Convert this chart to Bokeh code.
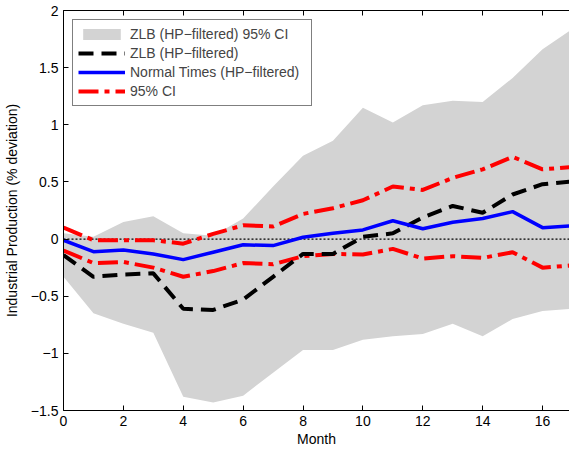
from bokeh.plotting import figure
from bokeh.models import (Range1d, FixedTicker, CustomJSTickFormatter, LinearAxis,
                          Legend, LegendItem, ColumnDataSource)
from bokeh.embed import file_html
from bokeh.resources import INLINE

# ---- data ----
months = list(range(18))
zlb_ci_upper = [0.05, 0.02, 0.15, 0.20, 0.05, 0.03, 0.18, 0.46, 0.73, 0.86, 1.15, 1.02,
                1.17, 1.21, 1.20, 1.41, 1.66, 1.84]
zlb_ci_lower = [-0.33, -0.65, -0.74, -0.82, -1.38, -1.43, -1.37, -1.17, -0.97, -0.97, -0.88,
                -0.85, -0.83, -0.74, -0.85, -0.70, -0.63, -0.61]
zlb = [-0.14, -0.33, -0.31, -0.30, -0.61, -0.62, -0.53, -0.33, -0.13, -0.13, 0.02, 0.05,
       0.19, 0.29, 0.23, 0.39, 0.48, 0.505]
normal = [-0.01, -0.11, -0.095, -0.13, -0.18, -0.115, -0.05, -0.057, 0.016, 0.05, 0.08, 0.16,
          0.09, 0.147, 0.18, 0.24, 0.10, 0.117]
ci_upper = [0.10, -0.01, -0.01, -0.01, -0.04, 0.045, 0.12, 0.11, 0.22, 0.27, 0.34, 0.46,
            0.43, 0.535, 0.61, 0.72, 0.61, 0.632]
ci_lower = [-0.10, -0.21, -0.20, -0.25, -0.33, -0.28, -0.21, -0.22, -0.15, -0.13, -0.135,
            -0.086, -0.17, -0.15, -0.165, -0.115, -0.25, -0.23]
zero_line = [0.0] * len(months)

x_ticks = [0, 2, 4, 6, 8, 10, 12, 14, 16]
y_ticks = [-1.5, -1, -0.5, 0, 0.5, 1, 1.5, 2]

labels = ["ZLB (HP\u2212filtered) 95% CI", "ZLB (HP\u2212filtered)",
          "Normal Times (HP\u2212filtered)", "95% CI"]

FONT = "Liberation Sans"

src = ColumnDataSource(dict(month=months, up=zlb_ci_upper, lo=zlb_ci_lower, zlb=zlb,
                            normal=normal, ciu=ci_upper, cil=ci_lower, zero=zero_line))

p = figure(width=569, height=450, output_backend="svg", toolbar_location=None,
           x_range=Range1d(0, 16.9), y_range=Range1d(-1.5, 2),
           min_border_left=63, min_border_right=0, min_border_top=10, min_border_bottom=40)
p.outline_line_color = None
p.xgrid.visible = False
p.ygrid.visible = False
p.background_fill_color = "white"
p.border_fill_color = "white"

area = p.varea(x="month", y1="lo", y2="up", source=src, fill_color="#d3d3d3", fill_alpha=1.0)
p.line(x="month", y="zero", source=src, line_color="black", line_width=1.2, line_dash="2 2")
ci_u = p.line(x="month", y="ciu", source=src, line_color="#ff0000", line_width=4,
              line_dash="20 6 5 6")
p.line(x="month", y="cil", source=src, line_color="#ff0000", line_width=4, line_dash="20 6 5 6")
zl = p.line(x="month", y="zlb", source=src, line_color="black", line_width=4, line_dash="15 8")
nl = p.line(x="month", y="normal", source=src, line_color="#0000ff", line_width=3.5)

fmt = CustomJSTickFormatter(code="return tick < 0 ? '\\u2212' + (-tick) : '' + tick;")

for ax in (p.xaxis[0], p.yaxis[0]):
    ax.major_tick_in = 5
    ax.major_tick_out = 0
    ax.minor_tick_in = 0
    ax.minor_tick_out = 0
    ax.axis_line_color = "black"
    ax.major_tick_line_color = "black"
    ax.major_label_text_font = FONT
    ax.major_label_text_font_size = "14px"
    ax.major_label_text_color = "black"
    ax.axis_label_text_font = FONT
    ax.axis_label_text_font_size = "14px"
    ax.axis_label_text_font_style = "normal"
    ax.axis_label_text_color = "black"
    ax.formatter = fmt

p.xaxis[0].ticker = FixedTicker(ticks=x_ticks)
p.yaxis[0].ticker = FixedTicker(ticks=y_ticks)
p.xaxis[0].axis_label = "Month"
p.xaxis[0].major_label_standoff = 5
p.xaxis[0].axis_label_standoff = 2
p.yaxis[0].axis_label = "Industrial Production (% deviation)"
p.yaxis[0].major_label_standoff = 5
p.yaxis[0].axis_label_standoff = 8

top = LinearAxis(ticker=FixedTicker(ticks=x_ticks), major_tick_in=5, major_tick_out=0,
                 minor_tick_in=0, minor_tick_out=0, major_label_standoff=0,
                 formatter=CustomJSTickFormatter(code="return '';"),
                 axis_line_color="black", major_tick_line_color="black")
p.add_layout(top, "above")

legend = Legend(items=[LegendItem(label=labels[0], renderers=[area]),
                       LegendItem(label=labels[1], renderers=[zl]),
                       LegendItem(label=labels[2], renderers=[nl]),
                       LegendItem(label=labels[3], renderers=[ci_u])],
                location="top_left", margin=9, padding=5, spacing=1,
                label_height=18, glyph_height=14, glyph_width=47, label_standoff=5,
                label_width=176, label_text_font=FONT, label_text_font_size="14px",
                border_line_color="black", border_line_width=1,
                background_fill_alpha=1.0)
p.add_layout(legend, "center")

open("out.html", "w").write(file_html(p, INLINE))
